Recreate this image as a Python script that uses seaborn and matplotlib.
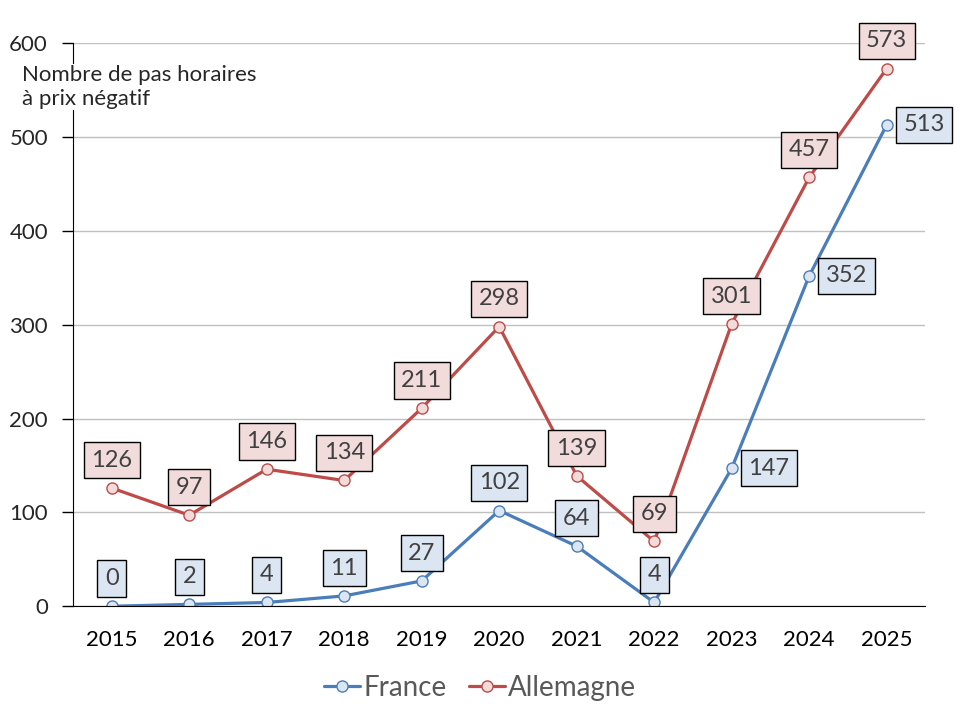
import pandas as pd
import numpy as np
import seaborn as sns
import matplotlib.pyplot as plt
from matplotlib.lines import Line2D

annees = ['2015', '2016', '2017', '2018', '2019', '2020', '2021', '2022', '2023', '2024', '2025']
france = [0, 2, 4, 11, 27, 102, 64, 4, 147, 352, 513]
allemagne = [126, 97, 146, 134, 211, 298, 139, 69, 301, 457, 573]

df = pd.DataFrame({'annee': annees * 2,
                   'valeur': france + allemagne,
                   'pays': ['France'] * len(annees) + ['Allemagne'] * len(annees)})

sns.set_style("white")
plt.rcParams['font.family'] = ['Lato', 'DejaVu Sans']

couleurs = {'France': '#4a7ebb', 'Allemagne': '#be4b48'}
remplis = {'France': '#dce6f2', 'Allemagne': '#f2dcdb'}

fig = plt.figure(figsize=(9.6, 7.2), dpi=100)
ax = fig.add_axes([0.076, 0.158, 0.888, 0.782])

sns.lineplot(data=df, x='annee', y='valeur', hue='pays', palette=couleurs,
             linewidth=2.3, ax=ax, legend=False, sort=False)
for pays in ['France', 'Allemagne']:
    sous = df[df['pays'] == pays]
    ax.plot(sous['annee'], sous['valeur'], linestyle='none', marker='o', markersize=8,
            markerfacecolor=remplis[pays], markeredgecolor=couleurs[pays], markeredgewidth=1)

# étiquettes de données
for i, v in enumerate(allemagne):
    ax.annotate(str(v), (i, v), xytext=(0, 20), textcoords='offset points',
                ha='center', va='center', fontsize=17, color='#404040',
                bbox=dict(boxstyle='square,pad=0.32', fc=remplis['Allemagne'], ec='black', lw=1))
for i, v in enumerate(france):
    if i < 8:
        off, ha = (0, 20), 'center'
    else:
        off, ha = (12, 0), 'left'
    ax.annotate(str(v), (i, v), xytext=off, textcoords='offset points',
                ha=ha, va='center', fontsize=17, color='#404040',
                bbox=dict(boxstyle='square,pad=0.32', fc=remplis['France'], ec='black', lw=1))

ax.set_xlim(-0.5, 10.5)
ax.set_ylim(0, 600)
ax.set_yticks(range(0, 601, 100))
ax.yaxis.grid(True, color='#c0c0c0', linewidth=1)
ax.set_axisbelow(True)
ax.set_xlabel(None)
ax.set_ylabel(None)

ax.set_xticks(range(len(annees)))
ax.set_xticklabels(annees)
ax.set_xticks(np.arange(-0.5, 11, 1), minor=True)
ax.tick_params(axis='x', which='major', length=0, labelsize=16, pad=17, colors='black')
ax.tick_params(axis='x', which='minor', length=14, width=1, color='black', direction='out')
ax.tick_params(axis='y', length=8, width=1, labelsize=16, color='black', left=True, pad=10)

ax.spines["top"].set_visible(False)
ax.spines["right"].set_visible(False)
ax.spines["left"].set_color("black")
ax.spines["bottom"].set_color("black")

fig.text(22 / 960, 1 - 87 / 720, "Nombre de pas horaires\nà prix négatif", fontsize=16,
         va='center', ha='left', linespacing=1.2,
         bbox=dict(fc='white', ec='none', pad=1))

# légende
poignees = [Line2D([], [], color=couleurs[p], lw=2.3, marker='o', markersize=8,
                   markerfacecolor=remplis[p], markeredgecolor=couleurs[p]) for p in ['France', 'Allemagne']]
fig.legend(poignees, ['France', 'Allemagne'], loc='center', bbox_to_anchor=(0.5, 1 - 688 / 720),
           ncol=2, frameon=False, fontsize=20, labelcolor='#595959', handlelength=1.3,
           handletextpad=0.1, columnspacing=0.8)

fig.savefig('out.png', dpi=100)
